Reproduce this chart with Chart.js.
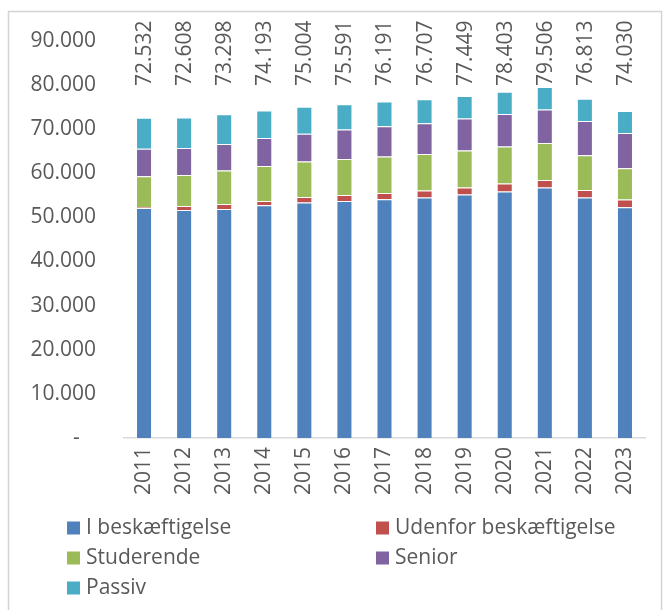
<!DOCTYPE html>
<html lang="da">
  <head>
    <meta charset="UTF-8" />
    <meta name="viewport" content="width=device-width, initial-scale=1.0" />
    <title>Befolkning fordelt på status</title>
    <script src="https://cdn.jsdelivr.net/npm/chart.js"></script>
    <style>
      html,
      body {
        margin: 0;
        padding: 0;
        background: #ffffff;
      }
      #wrap {
        width: 665px;
        height: 610px;
      }
    </style>
  </head>
  <body>
    <div id="wrap">
      <canvas id="statusChart" width="665" height="610"></canvas>
    </div>

    <script>
      // Data
      const years = ["2011", "2012", "2013", "2014", "2015", "2016", "2017", "2018", "2019", "2020", "2021", "2022", "2023"];
      const totals = [72532, 72608, 73298, 74193, 75004, 75591, 76191, 76707, 77449, 78403, 79506, 76813, 74030];
      const employed = [52090, 51650, 51880, 52710, 53320, 53690, 54070, 54460, 55130, 55810, 56720, 54460, 52260];
      const outside = [230, 910, 1130, 980, 1270, 1350, 1430, 1580, 1590, 1810, 1720, 1720, 1740];
      const students = [6950, 7010, 7550, 7920, 8010, 8150, 8230, 8280, 8370, 8380, 8370, 7850, 7090];
      const seniors = [6260, 6110, 6020, 6330, 6330, 6650, 6860, 6950, 7240, 7370, 7560, 7760, 7980];
      const passive = [7000, 6930, 6720, 6250, 6070, 5750, 5600, 5440, 5120, 5030, 5140, 5020, 4960];
      const yTicks = [0, 10000, 20000, 30000, 40000, 50000, 60000, 70000, 80000, 90000];

      const FONT = "'Open Sans', 'DejaVu Sans', sans-serif";
      const TEXT = "#595959";

      // 72532 -> "72.532", 0 -> "-"
      function fmt(v) {
        if (v === 0) return "-   ";
        return String(v).replace(/\B(?=(\d{3})+(?!\d))/g, ".");
      }

      // Light frame around the whole chart
      const framePlugin = {
        id: "frame",
        beforeDraw(chart) {
          const ctx = chart.ctx;
          ctx.save();
          ctx.strokeStyle = "#d4d4d4";
          ctx.lineWidth = 1.5;
          ctx.strokeRect(8.5, 11.5, 653, 640);
          ctx.restore();
        },
      };

      // Vertical total labels above the bars
      const totalsPlugin = {
        id: "totals",
        afterDatasetsDraw(chart) {
          const ctx = chart.ctx;
          const meta = chart.getDatasetMeta(chart.data.datasets.length - 1);
          ctx.save();
          ctx.fillStyle = TEXT;
          ctx.font = "21px " + FONT;
          ctx.textAlign = "left";
          ctx.textBaseline = "middle";
          meta.data.forEach((bar, i) => {
            ctx.save();
            ctx.translate(bar.x + 1, 86);
            ctx.rotate(-Math.PI / 2);
            ctx.fillText(fmt(totals[i]), 0, 0);
            ctx.restore();
          });
          ctx.restore();
        },
      };

      // Two-column legend below the axis
      const legendPlugin = {
        id: "gridLegend",
        afterDraw(chart) {
          const ctx = chart.ctx;
          const cols = [67, 376];
          const rows = [528, 558, 588];
          ctx.save();
          ctx.font = "21px " + FONT;
          ctx.textAlign = "left";
          ctx.textBaseline = "middle";
          chart.data.datasets.forEach((ds, i) => {
            const x = cols[i % 2];
            const y = rows[Math.floor(i / 2)];
            ctx.fillStyle = ds.backgroundColor;
            ctx.fillRect(x, y - 6.5, 13, 13);
            ctx.fillStyle = TEXT;
            ctx.fillText(ds.label, x + 19, y);
          });
          ctx.restore();
        },
      };

      const ds = (label, data, color) => ({
        label: label,
        data: data,
        backgroundColor: color,
        borderColor: "rgba(255,255,255,0.35)",
        borderWidth: 1,
        categoryPercentage: 0.8,
        barPercentage: 0.5,
      });

      new Chart(document.getElementById("statusChart"), {
        type: "bar",
        data: {
          labels: years,
          datasets: [
            ds("I beskæftigelse", employed, "#4f81bd"),
            ds("Udenfor beskæftigelse", outside, "#c0504d"),
            ds("Studerende", students, "#9bbb59"),
            ds("Senior", seniors, "#8064a2"),
            ds("Passiv", passive, "#4bacc6"),
          ],
        },
        options: {
          responsive: false,
          animation: false,
          layout: {
            padding: { top: 40, right: 20, left: 0, bottom: 0 },
          },
          plugins: {
            legend: { display: false },
            tooltip: { enabled: false },
          },
          scales: {
            x: {
              stacked: true,
              grid: { display: false, drawTicks: false },
              border: { display: true, color: "#d9d9d9", width: 1.5 },
              ticks: {
                color: TEXT,
                font: { family: FONT, size: 21 },
                minRotation: 90,
                maxRotation: 90,
                padding: 9,
              },
              afterFit(scale) {
                scale.height = 172;
              },
            },
            y: {
              stacked: true,
              min: 0,
              max: 90000,
              afterBuildTicks(scale) {
                scale.ticks = yTicks.map((v) => ({ value: v }));
              },
              grid: { display: false, drawTicks: false },
              border: { display: false },
              ticks: {
                color: TEXT,
                font: { family: FONT, size: 21 },
                padding: 28,
                callback: (v) => fmt(v),
              },
              afterFit(scale) {
                scale.width = 124;
              },
            },
          },
        },
        plugins: [framePlugin, totalsPlugin, legendPlugin],
      });
    </script>
  </body>
</html>
